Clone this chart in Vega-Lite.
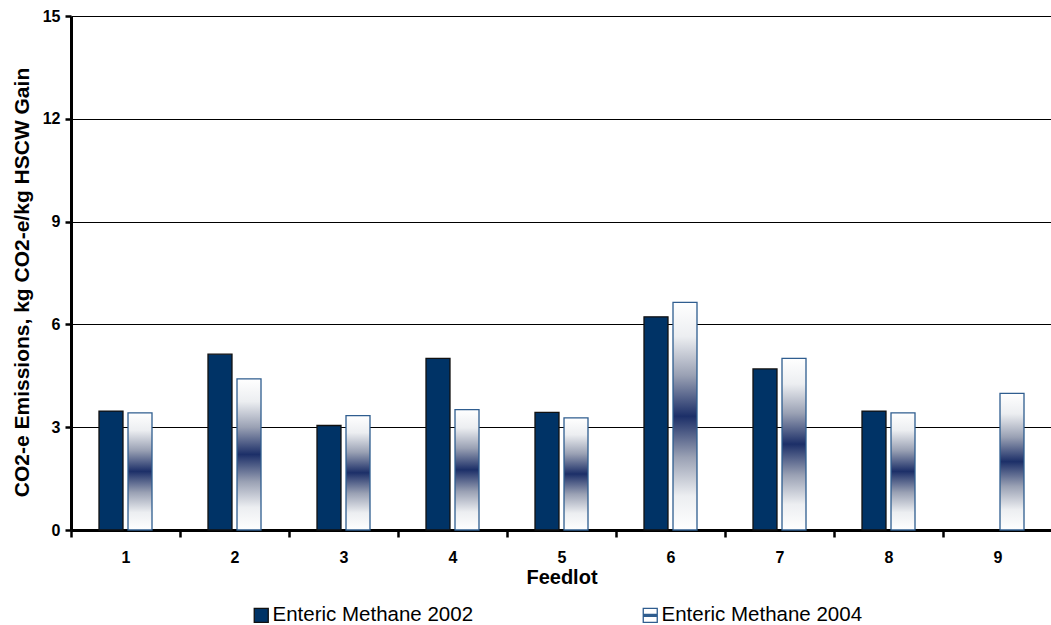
{
  "$schema": "https://vega.github.io/schema/vega-lite/v6.json",
  "autosize": "none",
  "width": 981,
  "height": 514,
  "padding": {"left": 71, "top": 16, "right": 0, "bottom": 95},
  "background": "#ffffff",
  "config": {
    "font": "Liberation Sans",
    "view": {"stroke": null}
  },
  "data": {
    "values": [
      {"feedlot": "1", "series": "Enteric Methane 2002", "value": 3.47},
      {"feedlot": "1", "series": "Enteric Methane 2004", "value": 3.42},
      {"feedlot": "2", "series": "Enteric Methane 2002", "value": 5.13},
      {"feedlot": "2", "series": "Enteric Methane 2004", "value": 4.41},
      {"feedlot": "3", "series": "Enteric Methane 2002", "value": 3.05},
      {"feedlot": "3", "series": "Enteric Methane 2004", "value": 3.34},
      {"feedlot": "4", "series": "Enteric Methane 2002", "value": 5.01},
      {"feedlot": "4", "series": "Enteric Methane 2004", "value": 3.51},
      {"feedlot": "5", "series": "Enteric Methane 2002", "value": 3.43},
      {"feedlot": "5", "series": "Enteric Methane 2004", "value": 3.27},
      {"feedlot": "6", "series": "Enteric Methane 2002", "value": 6.22},
      {"feedlot": "6", "series": "Enteric Methane 2004", "value": 6.64},
      {"feedlot": "7", "series": "Enteric Methane 2002", "value": 4.70},
      {"feedlot": "7", "series": "Enteric Methane 2004", "value": 5.01},
      {"feedlot": "8", "series": "Enteric Methane 2002", "value": 3.47},
      {"feedlot": "8", "series": "Enteric Methane 2004", "value": 3.42},
      {"feedlot": "9", "series": "Enteric Methane 2004", "value": 3.99}
    ]
  },
  "mark": {"type": "bar", "size": 24, "strokeWidth": 1.3},
  "encoding": {
    "x": {
      "field": "feedlot",
      "type": "nominal",
      "sort": ["1", "2", "3", "4", "5", "6", "7", "8", "9"],
      "scale": {"paddingInner": 0, "paddingOuter": 0},
      "axis": {
        "title": "Feedlot",
        "titleFont": "Liberation Sans",
        "titleFontSize": 20,
        "titleFontWeight": "bold",
        "titleColor": "#000000",
        "titlePadding": 2,
        "labelAngle": 0,
        "labelFont": "Liberation Sans",
        "labelFontSize": 16,
        "labelFontWeight": "bold",
        "labelColor": "#000000",
        "labelPadding": 12,
        "tickBand": "extent",
        "tickSize": 7,
        "tickWidth": 2.5,
        "tickColor": "#000000",
        "domainColor": "#000000",
        "domainWidth": 3,
        "grid": false
      }
    },
    "xOffset": {
      "field": "series",
      "type": "nominal",
      "scale": {
        "domain": ["Enteric Methane 2002", "Enteric Methane 2004"],
        "paddingInner": 0,
        "paddingOuter": 0.879
      }
    },
    "y": {
      "field": "value",
      "type": "quantitative",
      "scale": {"domain": [0, 15], "nice": false},
      "axis": {
        "title": "CO2-e Emissions, kg CO2-e/kg HSCW Gain",
        "titleFont": "Liberation Sans",
        "titleFontSize": 21,
        "titleFontWeight": "bold",
        "titleColor": "#000000",
        "titlePadding": 10,
        "titleY": 266,
        "values": [0, 3, 6, 9, 12, 15],
        "labelFont": "Liberation Sans",
        "labelFontSize": 16,
        "labelFontWeight": "bold",
        "labelColor": "#000000",
        "labelPadding": 5,
        "tickSize": 6,
        "tickWidth": 2.5,
        "tickColor": "#000000",
        "domainColor": "#000000",
        "domainWidth": 3,
        "grid": true,
        "gridColor": "#000000",
        "gridWidth": 1,
        "gridOpacity": 1
      }
    },
    "fill": {
      "field": "series",
      "type": "nominal",
      "scale": {
        "domain": ["Enteric Methane 2002", "Enteric Methane 2004"],
        "range": ["#003366", "#ffffff"]
      },
      "condition": {
        "test": "datum.series === 'Enteric Methane 2004'",
        "value": {
          "gradient": "linear",
          "x1": 0, "y1": 0, "x2": 0, "y2": 1,
          "stops": [
            {"offset": 0, "color": "#ffffff"},
            {"offset": 0.15, "color": "#eceef1"},
            {"offset": 0.32, "color": "#9aa1b4"},
            {"offset": 0.5, "color": "#1c2f68"},
            {"offset": 0.68, "color": "#9aa1b4"},
            {"offset": 0.85, "color": "#eceef1"},
            {"offset": 1, "color": "#ffffff"}
          ]
        }
      },
      "legend": {
        "orient": "none",
        "legendX": 180,
        "legendY": 589,
        "direction": "horizontal",
        "columns": 2,
        "columnPadding": 166,
        "title": null,
        "symbolType": "square",
        "symbolSize": 196,
        "symbolOffset": 0,
        "labelFont": "Liberation Sans",
        "labelFontSize": 20.5,
        "labelColor": "#000000",
        "labelOffset": 1,
        "labelLimit": 400,
        "symbolStrokeWidth": 1.3,
        "encode": {
          "symbols": {
            "update": {
              "shape": {
                "signal": "datum.value === 'Enteric Methane 2004' ? 'M-1,-1H1V1H-1Z M-1,-0.14H1 M-1,0H1 M-1,0.14H1' : 'square'"
              },
              "fill": {
                "signal": "datum.value === 'Enteric Methane 2004' ? '#ffffff' : '#003366'"
              },
              "stroke": {
                "signal": "datum.value === 'Enteric Methane 2004' ? '#2a4a80' : '#111111'"
              },
              "opacity": {"value": 1}
            }
          }
        }
      }
    },
    "stroke": {
      "field": "series",
      "type": "nominal",
      "scale": {
        "domain": ["Enteric Methane 2002", "Enteric Methane 2004"],
        "range": ["#111111", "#2f5d8f"]
      },
      "legend": null
    }
  }
}
